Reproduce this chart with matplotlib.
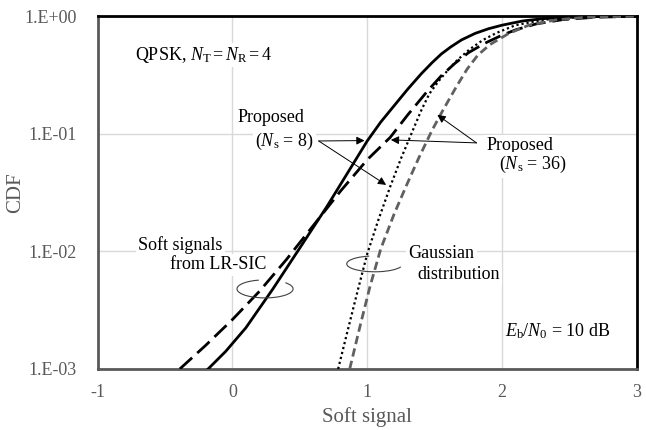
import numpy as np
import matplotlib
matplotlib.use("Agg")
import matplotlib.pyplot as plt
from matplotlib.patches import Arc

# soft signals from LR-SIC, Ns = 8 (solid)
lr8_x = [-0.18, -0.05, 0.10, 0.30, 0.50, 0.70, 0.85, 1.00, 1.10, 1.20, 1.30, 1.40, 1.48, 1.55,
         1.62, 1.70, 1.80, 1.90, 2.00, 2.15, 2.30, 2.50, 2.70, 3.00]
lr8_y = [1.00e-3, 1.41e-3, 2.24e-3, 4.79e-3, 1.07e-2, 2.40e-2, 4.57e-2, 8.71e-2, 0.126, 0.174, 0.240,
         0.324, 0.403, 0.479, 0.550, 0.631, 0.716, 0.785, 0.841, 0.912, 0.955, 0.982, 0.995, 1.0]

# soft signals from LR-SIC, Ns = 36 (long dash)
lr36_x = [-0.39, -0.20, 0.00, 0.20, 0.40, 0.60, 0.80, 1.00, 1.17, 1.30, 1.45, 1.55, 1.65, 1.75,
          1.87, 2.00, 2.10, 2.25, 2.45, 2.70, 3.00]
lr36_y = [1.00e-3, 1.58e-3, 2.63e-3, 4.57e-3, 8.51e-3, 1.66e-2, 3.24e-2, 6.03e-2, 9.33e-2, 0.145,
          0.234, 0.313, 0.398, 0.490, 0.589, 0.692, 0.767, 0.861, 0.938, 0.984, 1.0]

# Gaussian distribution, Ns = 8 (dotted)
g8_x = [0.784, 0.86, 0.93, 1.00, 1.08, 1.17, 1.25, 1.33, 1.40, 1.46, 1.53, 1.60, 1.67, 1.76,
        1.86, 1.96, 2.10, 2.30, 2.50, 2.70, 3.00]
g8_y = [1.0e-3, 2.24e-3, 4.68e-3, 9.55e-3, 1.82e-2, 3.55e-2, 6.17e-2, 0.102, 0.158, 0.219, 0.282,
        0.351, 0.427, 0.525, 0.631, 0.724, 0.841, 0.933, 0.977, 0.993, 1.0]

# Gaussian distribution, Ns = 36 (gray dash)
g36_x = [0.87, 0.95, 1.02, 1.10, 1.20, 1.29, 1.38, 1.48, 1.56, 1.66, 1.74, 1.82, 1.91, 2.05,
         2.20, 2.40, 2.60, 2.80, 3.00]
g36_y = [1.0e-3, 2.40e-3, 5.01e-3, 1.05e-2, 2.09e-2, 3.63e-2, 6.17e-2, 0.107, 0.158, 0.251, 0.355,
         0.468, 0.575, 0.716, 0.843, 0.933, 0.977, 0.995, 1.0]

x_ticks = [-1, 0, 1, 2, 3]
y_ticks = [1e-3, 1e-2, 1e-1, 1e0]
y_tick_labels = ['1.E-03', '1.E-02', '1.E-01', '1.E+00']

plt.rcParams['font.family'] = ['Liberation Serif', 'DejaVu Serif']
plt.rcParams['mathtext.fontset'] = 'custom'
plt.rcParams['mathtext.rm'] = 'Liberation Serif'
plt.rcParams['mathtext.it'] = 'Liberation Serif:italic'

fig = plt.figure(figsize=(6.46, 4.30), dpi=100)
ax = fig.add_axes([0.151, 0.142, 0.835, 0.820])

ax.plot(lr8_x, lr8_y, color='black', lw=2.0, zorder=5)
ax.plot(lr36_x, lr36_y, color='black', lw=2.0, dashes=(6, 2.5), zorder=5)
ax.plot(g8_x, g8_y, color='black', lw=1.6, dashes=(1, 1.3), zorder=5)
ax.plot(g36_x, g36_y, color='#606060', lw=2.0, dashes=(3, 1.6), zorder=5)

ax.set_yscale('log')
ax.set_xlim(-1, 3)
ax.set_ylim(1e-3, 1)
ax.set_xticks(x_ticks)
ax.set_xticklabels([str(t) for t in x_ticks])
ax.set_yticks(y_ticks)
ax.set_yticklabels(y_tick_labels)
ax.yaxis.set_minor_locator(plt.NullLocator())
ax.tick_params(length=0, labelsize=13, colors='#595959')
ax.tick_params(axis='x', pad=11)
ax.tick_params(axis='y', pad=15)
ax.grid(True, color='#d9d9d9', lw=1.0, zorder=0)
ax.set_axisbelow(True)

for side in ['left', 'bottom']:
    ax.spines[side].set_color('#595959')
    ax.spines[side].set_linewidth(2.0)
for side in ['top', 'right']:
    ax.spines[side].set_color('black')
    ax.spines[side].set_linewidth(2.0)

ax.set_xlabel('Soft signal', fontsize=15, color='#595959')
ax.set_ylabel('CDF', fontsize=15, color='#595959')
ax.xaxis.set_label_coords(0.5, -0.108)
ax.yaxis.set_label_coords(-0.134, 0.5)

box = dict(facecolor='white', edgecolor='none', pad=1.5)
fs = 13

ax.text(-0.72, 0.47, r'QPSK, $N_\mathrm{T} = N_\mathrm{R} = 4$', fontsize=fs,
        va='center', ha='left', bbox=box, zorder=3)

# Proposed Ns = 8
ax.text(0.04, 0.137, 'Proposed', fontsize=fs, va='center', ha='left', bbox=box, zorder=3)
ax.text(0.17, 0.0855, r'($N_\mathrm{s}$ = 8)', fontsize=fs, va='center', ha='left', bbox=box, zorder=3)
arrow = dict(arrowstyle='-|>', color='black', lw=0.7, mutation_scale=12, shrinkA=0, shrinkB=0)
ax.annotate('', xy=(0.98, 0.0877), xytext=(0.64, 0.087), arrowprops=arrow, zorder=6)
ax.annotate('', xy=(1.14, 0.0368), xytext=(0.64, 0.087), arrowprops=arrow, zorder=6)

# Proposed Ns = 36
ax.text(1.885, 0.079, 'Proposed', fontsize=fs, va='center', ha='left', bbox=box, zorder=3)
ax.text(1.98, 0.0545, r'($N_\mathrm{s}$ = 36)', fontsize=fs, va='center', ha='left', bbox=box, zorder=3)
ax.annotate('', xy=(1.175, 0.0889), xytext=(1.81, 0.0838), arrowprops=arrow, zorder=6)
ax.annotate('', xy=(1.52, 0.145), xytext=(1.81, 0.0838), arrowprops=arrow, zorder=6)

# group labels
ax.text(-0.70, 0.01136, 'Soft signals', fontsize=fs, va='center', ha='left', bbox=box, zorder=3)
ax.text(-0.463, 0.00767, 'from LR-SIC', fontsize=fs, va='center', ha='left', bbox=box, zorder=3)
ax.text(1.307, 0.00955, 'Gaussian', fontsize=fs, va='center', ha='left', bbox=box, zorder=3)
ax.text(1.374, 0.0063, 'distribution', fontsize=fs, va='center', ha='left', bbox=box, zorder=3)

ax.text(2.02, 0.0021, r'$E_\mathrm{b}/N_0$ = 10 dB', fontsize=fs, va='center', ha='left', zorder=3)

# braces around curve pairs
ax.add_patch(Arc((0.3105, 0.227), 0.104, 0.051, theta1=115, theta2=25,
                 transform=ax.transAxes, color='#404040', lw=0.8, zorder=6))
ax.add_patch(Arc((0.514, 0.298), 0.104, 0.045, theta1=115, theta2=-10,
                 transform=ax.transAxes, color='#404040', lw=0.8, zorder=6))

fig.savefig('out.png', dpi=100)
